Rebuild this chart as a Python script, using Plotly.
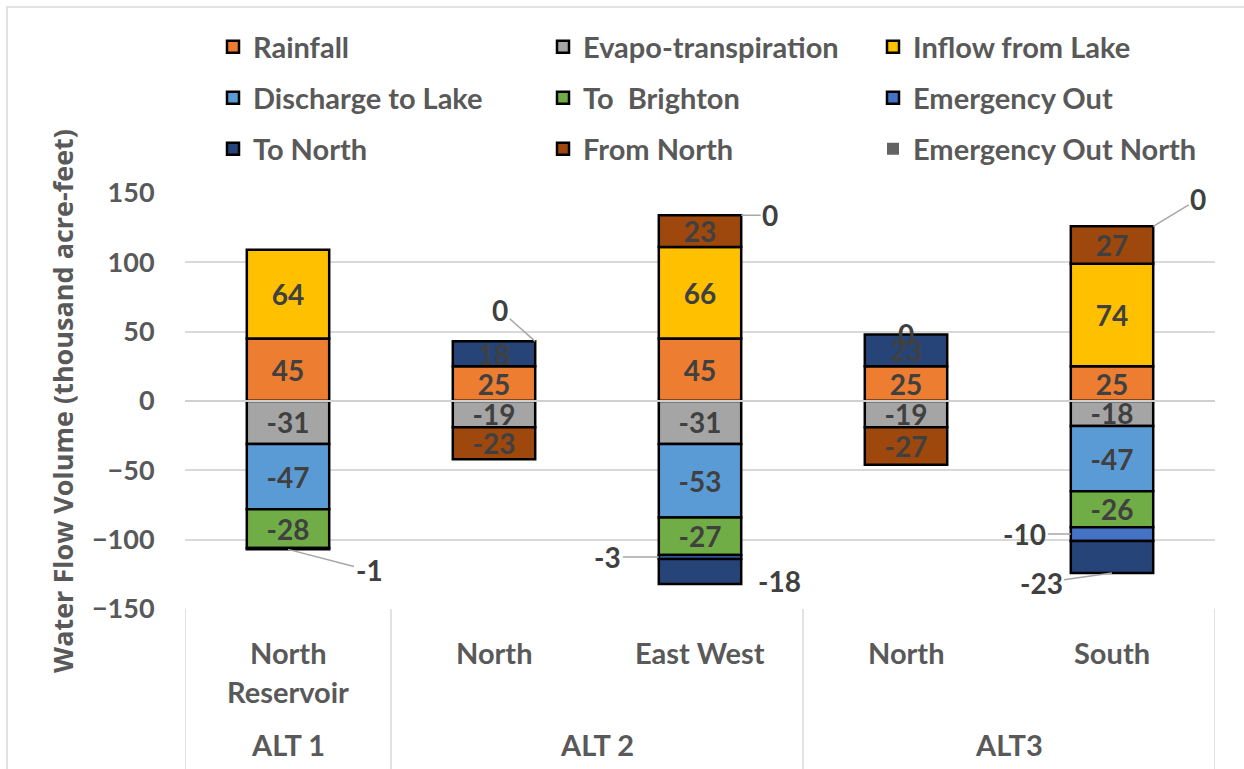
import plotly.graph_objects as go

# ---------------- data ----------------
categories = ["North\nReservoir", "North", "East West", "North", "South"]
groups = ["ALT 1", "ALT 2", "ALT 2", "ALT3", "ALT3"]

series_names = ["Rainfall", "Evapo-transpiration", "Inflow from Lake",
                "Discharge to Lake", "To  Brighton", "Emergency Out",
                "To North", "From North", "Emergency Out North"]

rainfall = [45, 25, 45, 25, 25]
evapo = [-31, -19, -31, -19, -18]
inflow = [64, None, 66, None, 74]
discharge = [-47, None, -53, None, -47]
brighton = [-28, None, -27, None, -26]
emergency_out = [-1, None, -3, None, -10]
to_north = [None, 18, -18, 23, -23]
from_north = [None, -23, 23, -27, 27]
emergency_out_north = [None, 0, 0, 0, 0]

y_ticks = [-150, -100, -50, 0, 50, 100, 150]

series_values = [rainfall, evapo, inflow, discharge, brighton,
                 emergency_out, to_north, from_north, emergency_out_north]
colors = ["#ED7D31", "#A5A5A5", "#FFC000", "#5B9BD5", "#70AD47",
          "#4472C4", "#264478", "#9E480E", "#636363"]
legend_ids = ["legend"] * 3 + ["legend2"] * 3 + ["legend3"] * 3

# ---------------- layout constants ----------------
W, H = 1244, 769
L, R, T, B = 185, 29, 193, 160
PW, PH = W - L - R, H - T - B
BAR_W = 0.4

def pyp(p):  # pixel y -> paper y
    return (H - B - p) / PH

def pxp(p):  # pixel x -> paper x
    return (p - L) / PW

TXT = "#595959"
LBL = "#404040"
FONT = "Lato"

# callouts: (series, category index) -> (anchor side x, anchor y part, ax, ay, arrow)
callouts = {
    ("Emergency Out", 0): (0, "lo", 81, 21, True),
    ("Emergency Out North", 1): (1, "hi", -35, -31, True),
    ("Emergency Out North", 2): (1, "hi", 29, 0, True),
    ("Emergency Out", 2): (-1, "mid", -51, 0, True),
    ("To North", 2): (1, "mid", 38, 9, False),
    ("Emergency Out North", 3): (0, "hi", 0, 0, False),
    ("Emergency Out North", 4): (1, "hi", 45, -27, True),
    ("Emergency Out", 4): (-1, "mid", -46, 0, True),
    ("To North", 4): (0, "lo", -71, 10, True),
}

fig = go.Figure()
xs = list(range(len(categories)))

# segment bounds for relative stacking
pos = [0.0] * len(xs)
neg = [0.0] * len(xs)
bounds = {}
for name, vals in zip(series_names, series_values):
    for j, v in enumerate(vals):
        if v is None:
            continue
        if v >= 0:
            bounds[(name, j)] = (pos[j], pos[j] + v)
            pos[j] += v
        else:
            bounds[(name, j)] = (neg[j] + v, neg[j])
            neg[j] += v

for name, vals, col, lg in zip(series_names, series_values, colors, legend_ids):
    texts = ["" if (v is None or (name, j) in callouts) else str(v)
             for j, v in enumerate(vals)]
    lw = 0 if name == "Emergency Out North" else 2.5
    fig.add_trace(go.Bar(
        x=xs, y=vals, name=name, width=BAR_W,
        marker=dict(color=col, line=dict(color="black", width=lw)),
        text=texts, textposition="inside", insidetextanchor="middle",
        textangle=0, constraintext="none",
        textfont=dict(family=FONT, size=28, color=LBL, weight="bold"),
        legend=lg, hoverinfo="name+y",
    ))

# callout annotations
for (name, j), (sx, part, ax, ay, arrow) in callouts.items():
    lo, hi = bounds[(name, j)]
    yv = lo if part == "lo" else hi if part == "hi" else (lo + hi) / 2
    val = series_values[series_names.index(name)][j]
    xv = j + sx * BAR_W / 2
    if arrow:
        fig.add_annotation(x=xv, y=yv, xref="x", yref="y", text=str(val),
                           showarrow=True, arrowhead=0, arrowwidth=1.5,
                           arrowcolor="#A6A6A6", ax=ax, ay=ay, standoff=0,
                           font=dict(family=FONT, size=28, color=LBL, weight="bold"))
    else:
        fig.add_annotation(x=xv, y=yv, xref="x", yref="y", text=str(val),
                           showarrow=False, xshift=ax, yshift=-ay,
                           font=dict(family=FONT, size=28, color=LBL, weight="bold"))

# category labels (two levels)
for j, c in enumerate(categories):
    for k, line in enumerate(c.split("\n")):
        fig.add_annotation(x=j, y=pyp(652 + 39 * k), xref="x", yref="paper",
                           text=line, showarrow=False, yanchor="middle",
                           font=dict(family=FONT, size=29, color=TXT, weight="bold"))

# group labels & dividers
group_spans = []
for j, g in enumerate(groups):
    if group_spans and group_spans[-1][0] == g:
        group_spans[-1][2] = j
    else:
        group_spans.append([g, j, j])
for g, a, b in group_spans:
    fig.add_annotation(x=(a + b) / 2, y=pyp(744), xref="x", yref="paper",
                       text=g, showarrow=False, yanchor="middle",
                       font=dict(family=FONT, size=29, color=TXT, weight="bold"))
divs = [group_spans[0][1] - 0.5] + [s[2] + 0.5 for s in group_spans]
for d in divs:
    fig.add_shape(type="line", xref="x", yref="paper", x0=d, x1=d,
                  y0=0, y1=pyp(H + 5), line=dict(color="#D9D9D9", width=1.5))

# zero line above bars
fig.add_shape(type="line", xref="paper", yref="y", x0=0, x1=1, y0=0, y1=0,
              line=dict(color="#D0D0D0", width=2), layer="above")

# chart border
fig.add_shape(type="rect", xref="paper", yref="paper",
              x0=pxp(7), x1=pxp(W + 10), y0=pyp(H + 10), y1=pyp(7),
              line=dict(color="#D9D9D9", width=1.5))

legend_common = dict(orientation="h", xanchor="left", yanchor="middle",
                     entrywidth=285, itemclick=False,
                     font=dict(family=FONT, size=29, color=TXT, weight="bold"),
                     bgcolor="rgba(0,0,0,0)", itemwidth=30)

fig.update_layout(
    width=W, height=H,
    margin=dict(l=L, r=R, t=T, b=B),
    paper_bgcolor="white", plot_bgcolor="white",
    barmode="relative",
    showlegend=True,
    legend=dict(x=pxp(213), y=pyp(47), **legend_common),
    legend2=dict(x=pxp(213), y=pyp(98), **legend_common),
    legend3=dict(x=pxp(213), y=pyp(149), **legend_common),
    xaxis=dict(range=[-0.5, len(xs) - 0.5], showticklabels=False,
               showgrid=False, zeroline=False, showline=False, ticks=""),
    yaxis=dict(range=[-150, 150], tickvals=y_ticks, showgrid=True,
               gridcolor="#D9D9D9", gridwidth=1.5, zeroline=False,
               ticks="outside", ticklen=24, tickcolor="rgba(0,0,0,0)",
               tickfont=dict(family=FONT, size=27, color=TXT, weight="bold"),
               title=dict(text="Water Flow Volume (thousand acre-feet)",
                          font=dict(family="Open Sans", size=27, color=TXT, weight="bold"),
                          standoff=10)),
)

fig.write_html("out.html")
